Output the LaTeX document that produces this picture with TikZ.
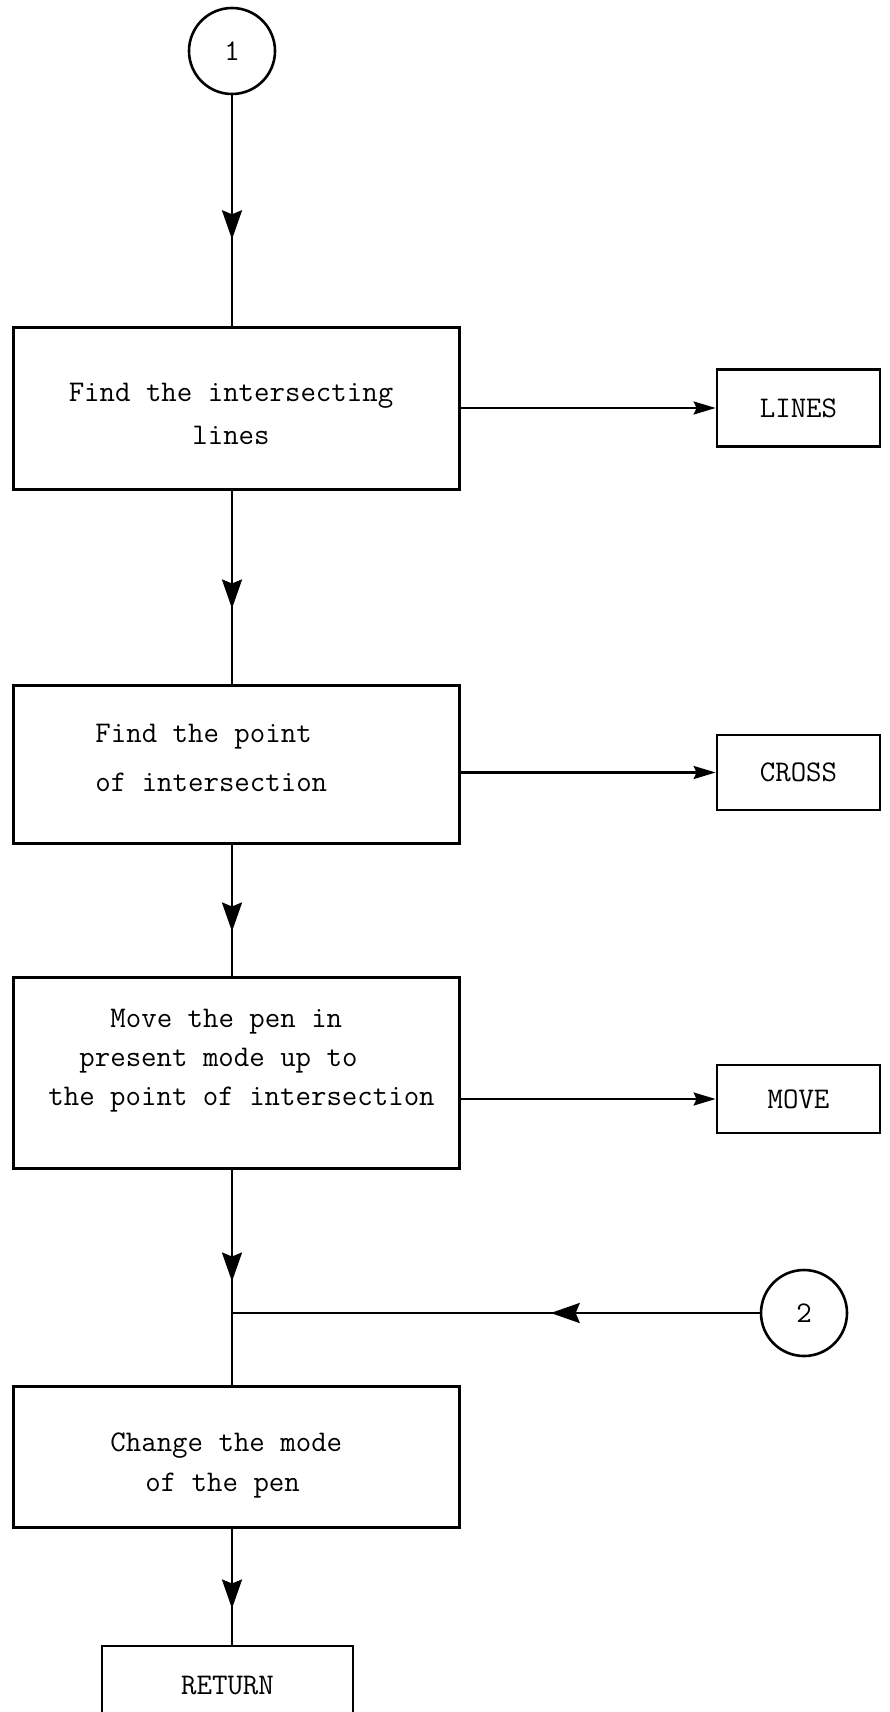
\documentclass[tikz,border=0pt]{standalone}
\usetikzlibrary{arrows.meta,decorations.markings}
\newcommand\typerface[1]{\fontsize{15}{#1}\selectfont\ttfamily}
\begin{document}
\begin{tikzpicture}[x=0.5pt,y=-0.5pt,
  flowbox/.style={draw, rectangle, line width=1.5pt, inner sep=0pt, minimum width=223pt},
  subbox/.style={draw, rectangle, line width=1.4pt, inner sep=0pt, minimum width=81.5pt, font=\typerface{18pt}},
  connector/.style={draw, circle, line width=1.3pt, inner sep=0pt, minimum size=43pt, font=\typerface{18pt}},
  txt/.style={inner sep=0pt},
  flow/.style={line width=1.25pt},
  midarrow/.style={postaction={decorate}, decoration={markings,
      mark=at position #1 with {\arrow{Stealth[length=14.5pt,width=10pt,inset=2pt]}}}},
  tipped/.style={-{Stealth[length=11pt,width=6.5pt,inset=1.5pt]}}
]
\useasboundingbox (0,0) rectangle (889,1712);
\fill[white] (0,0) rectangle (889,1712);
\clip (0,0) rectangle (889,1712);

% entry connector
\node[connector] (c1) at (232,51) {1};

% step 1
\node[flowbox, minimum height=81pt] (b1) at (236,408) {};
\node[txt, align=center, font=\typerface{21.5pt}] (t1) at (231,413.5) {Find the intersecting\\lines};
\node[subbox, minimum height=38.5pt] (lines) at (798.5,408) {LINES};

% step 2
\node[flowbox, minimum height=79pt] (b2) at (236,764) {};
\node[txt, align=left, anchor=west, font=\typerface{24.5pt}] (t2) at (95,757.5) {Find the point\\of intersection};
\node[subbox, minimum height=37.5pt] (cross) at (798.5,772.5) {CROSS};

% step 3
\node[flowbox, minimum height=95.5pt] (b3) at (236,1072.5) {};
\node[txt, align=left, anchor=west, font=\typerface{19.5pt}] (t3) at (48,1061)
  {\hspace*{31pt}Move the pen in\\\hspace*{15.5pt}present mode up to\\the point of intersection};
\node[subbox, minimum height=34pt] (move) at (798.5,1099) {MOVE};

% re-entry connector
\node[connector] (c2) at (804,1313) {2};

% step 4
\node[flowbox, minimum height=70.5pt] (b4) at (236,1456.5) {};
\node[txt, align=left, anchor=west, font=\typerface{20pt}] (t4) at (110,1465)
  {Change the mode\\\hspace*{17.5pt}of the pen};

% exit
\node[subbox, minimum width=125.5pt, minimum height=39pt] (ret) at (227.5,1685) {RETURN};

% main flow
\draw[flow, midarrow=72pt] (c1.south) -- (c1.south |- b1.north);
\draw[flow, midarrow=59pt] (b1.south -| c1) -- (b2.north -| c1);
\draw[flow, midarrow=43.5pt] (b2.south -| c1) -- (b3.north -| c1);
\draw[flow, midarrow=56pt] (b3.south -| c1) -- (b4.north -| c1);
\draw[flow, midarrow=104.5pt] (c2.west) -- (c2.west -| c1);
\draw[flow, midarrow=40pt] (b4.south -| c1) -- (ret.north -| c1);

% calls to subroutines
\draw[flow, tipped] (b1.east) -- (lines.west);
\draw[flow, tipped] (cross.west -| b2.east) -- (cross.west);
\draw[flow, tipped] (move.west -| b3.east) -- (move.west);
\end{tikzpicture}
\end{document}
